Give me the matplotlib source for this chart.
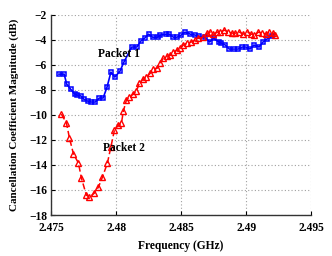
import numpy as np
import matplotlib
matplotlib.use("Agg")
import matplotlib.pyplot as plt

plt.rcParams['font.family'] = ['Liberation Serif', 'DejaVu Serif']
plt.rcParams['font.weight'] = 'bold'

# packet 1 (blue squares, solid)
f_p1 = [2.4756, 2.4760, 2.4762, 2.4765, 2.4768, 2.4770, 2.4773, 2.4775, 2.4778, 2.4781,
        2.4784, 2.4787, 2.4790, 2.4793, 2.4796, 2.4799, 2.4803, 2.4806, 2.4812, 2.4816,
        2.4819, 2.4822, 2.4825, 2.4828, 2.4832, 2.4834, 2.4838, 2.4841, 2.4844, 2.4847,
        2.4850, 2.4853, 2.4857, 2.4861, 2.4864, 2.4868, 2.4872, 2.4875, 2.4879, 2.4881,
        2.4884, 2.4887, 2.4891, 2.4894, 2.4897, 2.4900, 2.4903, 2.4906, 2.4910, 2.4913,
        2.4916, 2.4920]
mag_p1 = [-6.75, -6.75, -7.55, -7.95, -8.34, -8.42, -8.50, -8.74, -8.90, -8.98,
          -8.98, -8.66, -8.66, -7.79, -6.59, -6.99, -6.51, -5.79, -4.59, -4.59,
          -4.11, -3.88, -3.56, -3.80, -3.80, -3.64, -3.56, -3.56, -3.80, -3.80,
          -3.64, -3.40, -3.56, -3.64, -3.72, -3.80, -4.19, -3.88, -4.19, -4.27,
          -4.43, -4.75, -4.75, -4.75, -4.59, -4.59, -4.75, -4.43, -4.59, -4.19,
          -3.96, -3.72]

# packet 2 (red triangles, dashed)
f_p2 = [2.47579, 2.47618, 2.47641, 2.47672, 2.47710, 2.47733, 2.47771, 2.47795, 2.47833, 2.47864,
        2.47895, 2.47933, 2.47960, 2.47987, 2.48018, 2.48041, 2.48056, 2.48079, 2.48102, 2.48133,
        2.48156, 2.48179, 2.48210, 2.48233, 2.48264, 2.48287, 2.48318, 2.48341, 2.48364, 2.48395,
        2.48418, 2.48441, 2.48472, 2.48495, 2.48518, 2.48549, 2.48579, 2.48610, 2.48633, 2.48672,
        2.48702, 2.48725, 2.48748, 2.48779, 2.48802, 2.48833, 2.48864, 2.48895, 2.48918, 2.48949,
        2.48979, 2.49010, 2.49041, 2.49064, 2.49095, 2.49125, 2.49156, 2.49179, 2.49210, 2.49225]
mag_p2 = [-9.94, -10.66, -11.86, -13.13, -13.85, -15.05, -16.41, -16.57, -16.25, -15.77,
          -14.97, -13.85, -12.55, -11.22, -10.82, -10.66, -9.70, -8.82, -8.58, -8.34,
          -8.11, -7.47, -7.15, -6.99, -6.67, -6.35, -6.27, -5.87, -5.47, -5.31,
          -5.23, -4.99, -4.83, -4.67, -4.43, -4.27, -4.19, -4.04, -3.88, -3.80,
          -3.48, -3.40, -3.56, -3.40, -3.40, -3.24, -3.40, -3.48, -3.48, -3.40,
          -3.56, -3.40, -3.56, -3.64, -3.40, -3.48, -3.56, -3.40, -3.48, -3.64]

x_ticks = [2.475, 2.48, 2.485, 2.49, 2.495]
x_ticklabels = ['2.475', '2.48', '2.485', '2.49', '2.495']
y_ticks = [-18, -16, -14, -12, -10, -8, -6, -4, -2]

fig = plt.figure(figsize=(3.32, 2.56), dpi=100)
ax = fig.add_axes([0.154, 0.160, 0.783, 0.783])

ax.plot(f_p1, mag_p1, color='#0000ff', lw=1.2, marker='s', ms=3.4,
        mfc='none', mec='#0000ff', mew=1.1)
ax.plot(f_p2, mag_p2, color='#ff0000', lw=1.1, ls=(0, (4, 2)), marker='^', ms=4,
        mfc='none', mec='#ff0000', mew=1.0)

ax.set_xlim(2.475, 2.495)
ax.set_ylim(-18, -2)
ax.set_xticks(x_ticks)
ax.set_xticklabels(x_ticklabels)
ax.set_yticks(y_ticks)
ax.grid(True, ls=(0, (1, 2)), color='#a0a0a0', lw=0.8)
ax.set_axisbelow(True)
for s in ['top', 'right']:
    ax.spines[s].set_visible(False)
for s in ['left', 'bottom']:
    ax.spines[s].set_linewidth(1.0)
    ax.spines[s].set_color('#333333')
ax.tick_params(direction='in', length=3, labelsize=8.3)
ax.tick_params(axis='x', pad=5)
ax.tick_params(axis='y', pad=3)
for lab in ax.get_xticklabels() + ax.get_yticklabels():
    lab.set_fontweight('bold')

ax.set_xlabel('Frequency (GHz)', fontsize=8.3, fontweight='bold', labelpad=4)
ax.set_ylabel('Cancellation Coefficient Magnitude (dB)', fontsize=8,
              fontweight='bold', labelpad=7)

ax.text(2.48018, -5.15, 'Packet 1', fontsize=8.3, fontweight='bold',
        ha='center', va='center')
ax.text(2.48064, -12.65, 'Packet 2', fontsize=8.3, fontweight='bold',
        ha='center', va='center')

fig.savefig('out.png', dpi=100)
